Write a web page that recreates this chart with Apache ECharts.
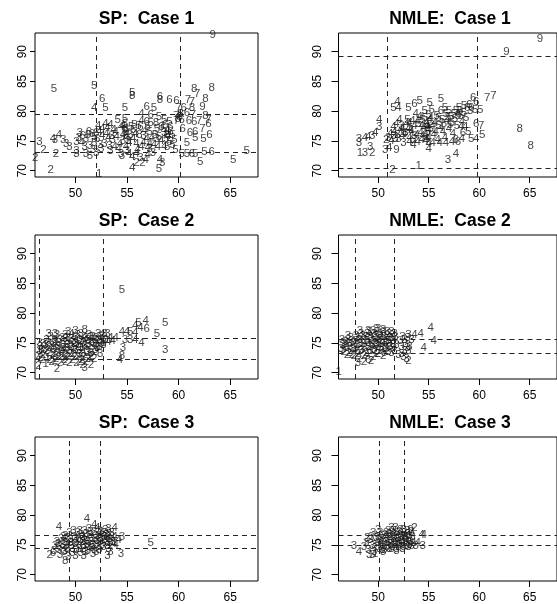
<!DOCTYPE html>
<html><head><meta charset="utf-8">
<script src="https://cdn.jsdelivr.net/npm/echarts@6/dist/echarts.min.js"></script>
<style>html,body{margin:0;padding:0;background:#fff}#c{width:557px;height:604px}</style>
</head><body><div id="c"></div>
<script>
const xTicks=[50,55,60,65];
const yTicks=[70,75,80,85,90];
const panelTitles=['SP:  Case 1','NMLE:  Case 1','SP:  Case 2','NMLE:  Case 2','SP:  Case 3','NMLE:  Case 3'];

const sp1Points=[
[63.3,92.9,9],[47.9,83.8,5],[51.8,84.2,5],[51.8,80.5,4],[52.9,80.5,5],[52.6,82.0,6],[54.8,80.5,5],[55.5,83.1,5],[55.5,82.6,8],[56.9,80.8,6],[57.6,80.6,5],[58.2,82.4,6],[58.2,81.9,8],[59.1,81.9,6],[59.8,81.8,6],[60.9,81.9,7],[61.3,81.6,7],[61.5,83.8,8],[61.8,82.9,7],[63.2,84.0,8],[62.6,82.0,8],[62.3,80.8,9],[61.3,80.5,8],[62.6,79.2,8],[62.0,78.3,7],[62.9,78.5,7],[62.9,77.8,6],[62.3,77.0,7],[61.5,78.2,6],[61.0,78.3,6],[60.4,77.1,6],[61.6,76.5,6],[61.1,76.3,6],[61.6,75.6,5],[63.0,76.1,6],[62.4,75.3,5],[60.8,74.7,5],[59.6,75.2,5],[59.7,73.5,5],[60.3,72.8,5],[60.8,72.9,5],[61.3,72.9,6],[61.6,72.9,5],[62.1,71.5,5],[62.5,73.2,5],[63.2,73.2,6],[65.3,71.8,5],[66.6,73.3,5],[58.2,71.8,4],[58.4,71.4,3],[58.1,70.3,5],[55.5,70.4,4],[47.6,70.2,2],[52.3,69.5,1],[46.1,72.2,2],[46.9,73.5,2],[48.1,72.9,2],[46.5,74.9,3],[47.8,75.3,4],[48.0,75.2,3],[48.4,76.0,4],[48.8,75.2,3],[49.1,74.5,3],[49.4,74.0,3],
[60.0,80.6,7],[60.5,80.5,6],[60.2,79.6,8],[59.8,79.3,7],[60.8,79.8,6],[61.4,79.4,7],
[50.4,76.3,3],[50.1,74.9,3],[50.6,74.6,4],[50.9,74.0,3],[50.1,73.4,3],[50.1,72.9,3],[51.0,72.8,3],[51.4,72.5,5],[51.2,76.0,6],[51.6,76.2,6],[52.0,76.3,6],[51.8,75.7,5],[52.1,75.4,6],[51.8,74.7,5],[52.4,74.3,3],[52.0,73.0,3],[52.8,74.5,3],[53.3,74.1,3],[52.6,75.8,4],[53.0,76.2,4],[52.2,77.5,4],[52.6,77.0,4],[52.9,77.8,4],[53.4,77.7,4],[53.5,75.9,3],[53.9,76.6,4],[53.6,75.2,3],[53.8,74.0,4],[54.3,74.5,4],[54.1,78.6,5],[54.4,77.3,4],[54.6,76.1,4],[54.8,78.8,5],[54.8,77.8,5],[54.9,77.1,3],[54.8,76.6,5],[54.8,76.9,9],[55.0,76.2,4],[54.9,75.5,4],[54.9,74.0,4],[55.1,75.0,3],[55.3,76.0,3],[55.2,74.6,4],[55.2,72.9,4],[54.5,72.5,3],[55.7,77.7,5],[55.6,76.8,5],[55.6,75.4,4],[55.9,74.5,4],[55.9,72.8,4],[55.9,71.3,2],[56.2,76.0,8],[56.4,78.4,4],[56.3,77.3,6],[56.4,74.0,4],[56.5,71.3,2],[56.6,75.9,3],[56.9,78.2,6],[56.9,75.3,4],[56.8,71.8,4],[57.0,72.6,4],[57.2,73.7,3],[57.3,78.0,5],[57.2,76.5,5],[57.2,74.5,4],[57.5,73.0,3],[57.7,76.0,5],[57.8,78.1,8],[57.6,74.3,4],[57.9,75.3,3],[58.1,79.0,5],[58.1,75.7,5],[58.3,77.3,6],[58.0,74.0,4],[58.6,78.5,5],[58.6,74.0,4],[58.5,77.1,5],[58.6,76.3,3],[58.9,76.7,4],[58.9,76.0,6],[58.9,74.0,5],[58.8,75.4,5],[59.1,78.2,5],[59.0,75.9,4],[59.2,76.5,6],[59.4,74.3,5],[59.8,78.4,7],[60.1,79.0,6],[59.9,78.8,8],[60.3,78.6,6],[57.3,79.4,6],[56.4,79.5,4],
[50.3,75.6,3],[50.7,75.9,6],[51.0,75.3,3],[51.4,74.1,3],[51.3,76.6,6],[51.7,73.5,3],[52.3,76.6,4],[52.5,73.6,3],[53.2,75.5,4],[53.1,77.2,4],[53.7,76.9,4],[54.0,75.7,4],[54.2,73.6,4],[54.6,77.6,4],[54.6,75.0,3],[55.0,73.3,3],[55.4,77.3,5],[55.8,76.2,4],[56.0,73.5,4],[56.1,77.6,5],[56.7,76.7,4],[56.6,74.7,4],[57.0,77.3,5],[57.4,75.6,4],[57.9,77.0,5],[58.3,75.0,4],[58.7,77.7,6],[59.2,77.3,6],[59.4,76.0,5],[59.1,74.8,5],[54.4,72.9,3],[53.4,73.4,3],[55.5,72.3,4],[56.3,72.2,3],[57.0,73.9,4]
];

const nm1Points=[
[66.0,92.2,9],[62.7,90.0,9],[64.0,77.0,8],[65.1,74.1,8],[60.8,82.3,7],[61.4,82.6,7],[59.4,82.2,6],[59.7,81.6,6],[59.7,77.8,6],[60.2,77.5,7],[60.3,76.0,5],[59.7,75.3,4],[59.2,75.4,5],[56.9,71.9,3],[57.7,72.8,4],[54.0,70.9,1],[51.4,70.2,2],[48.2,73.0,1],[48.7,73.0,3],[49.4,73.0,2],[48.1,75.4,3],[48.1,74.6,3],[49.2,74.0,3],[50.1,78.5,4],[50.1,77.4,3],[49.7,76.3,4],[49.4,75.8,3],[49.0,75.7,4],[48.7,75.5,4],[50.7,73.5,3],[51.1,73.8,4],[51.8,73.5,9],[53.5,74.3,4],[55.0,73.6,4],[51.9,81.6,4],[51.5,80.5,5],[52.0,80.5,4],[53.0,80.5,5],[53.6,81.2,6],[54.1,81.8,5],[55.1,81.4,5],[56.2,82.0,5],
[60.1,80.2,5],[59.6,80.2,5],[59.1,80.0,3],[58.0,79.6,5],[58.2,77.4,4],[58.4,76.3,6],[58.3,75.4,4],[56.7,74.6,4],[57.7,75.2,6],[57.9,74.8,6],[57.3,74.9,4],
[50.8,75.2,2],[51.0,75.5,3],[51.3,75.0,4],[51.5,75.8,3],[51.6,76.6,4],[51.5,77.3,4],[51.8,77.9,4],[51.9,76.0,3],[52.0,75.3,3],[52.2,76.8,4],[52.3,77.5,3],[52.4,75.8,4],[52.5,74.7,3],[52.7,76.3,3],[52.8,77.9,4],[52.9,78.6,5],[53.0,77.0,4],[53.1,75.6,4],[53.3,76.5,4],[53.4,78.3,4],[53.5,75.2,3],[53.6,77.5,4],[53.7,79.5,4],[53.8,76.0,4],[53.9,74.8,4],[54.0,77.8,5],[54.1,79.1,4],[54.2,76.4,4],[54.3,75.2,4],[54.4,78.6,5],[54.5,77.2,4],[54.6,80.0,5],[54.7,76.0,4],[54.7,75.0,4],[54.8,78.0,4],[54.9,77.3,4],[54.9,76.5,5],[55.0,79.4,5],[55.0,75.6,4],[55.0,74.5,4],[55.1,78.5,4],[55.2,77.0,5],[55.3,80.2,5],[55.5,76.0,4],[55.6,78.0,4],[55.8,79.2,5],[55.9,75.2,4],[56.0,77.6,5],[56.1,74.6,4],[56.2,80.0,6],[56.3,78.6,5],[56.4,76.6,4],[56.5,77.9,5],[56.6,75.6,4],[56.7,79.6,5],[56.8,78.3,4],[57.0,77.0,4],[57.0,80.1,5],[57.2,79.0,5],[57.3,78.0,5],[57.4,76.2,4],[57.5,79.6,5],[57.7,80.0,5],[57.8,77.6,5],[58.0,80.6,5],[58.2,79.3,5],[58.3,78.2,4],[58.5,80.9,5],[58.8,80.5,6],[59.0,81.0,6],[59.2,80.5,6],[58.6,77.4,4],[58.9,76.6,5],
[51.2,76.2,4],[51.7,75.4,3],[52.1,78.5,4],[52.4,77.1,4],[52.6,76.2,4],[53.1,78.0,4],[53.2,76.8,4],[53.6,75.8,3],[53.9,78.4,4],[54.3,77.5,4],[54.4,75.9,4],[54.6,78.9,5],[54.8,77.6,4],[54.8,75.4,4],[55.0,76.9,4],[55.2,78.9,4],[55.4,77.5,4],[55.7,76.6,4],[56.0,78.9,5],[56.2,77.2,4],[56.6,80.5,5],[56.9,79.0,5],[57.1,77.7,5],[57.6,78.7,5],[57.9,79.3,5],[58.1,80.1,5],[58.5,79.7,5],[58.7,78.9,5],[55.4,74.7,4],[53.1,74.9,4]
];

const sp2Points=[
[54.5,83.9,5],[58.7,78.4,5],[56.8,78.8,4],[56.1,78.3,5],[55.8,77.9,4],[56.9,77.4,6],[56.3,77.5,4],[57.9,76.5,5],[54.5,76.8,4],[55.0,76.8,4],[55.3,76.9,5],[55.8,76.7,4],[54.8,75.6,3],[55.3,75.6,3],[55.8,75.5,4],[56.4,75.0,4],[54.6,74.1,3],[54.5,72.8,8],[54.3,72.1,4],[58.7,73.8,3],[53.1,76.5,3],[53.9,75.9,4],[53.6,75.4,4],[52.7,74.6,3],[52.4,73.1,3],[51.2,72.4,2],[50.9,70.9,3],[48.2,70.7,2],[47.1,71.5,1],[46.4,71.2,2],
[46.4,72.8,2],[46.5,73.6,3],[46.6,74.4,3],[46.5,75.1,3],[46.8,72.2,2],[46.9,73.0,2],[47.0,73.9,3],[47.1,74.7,3],[47.2,75.5,3],[47.3,72.5,1],[47.4,73.4,2],[47.5,74.2,3],[47.6,76.0,3],[47.7,71.8,2],[47.8,72.9,2],[47.9,73.8,3],[47.9,74.8,3],[48.0,75.6,3],[48.1,72.3,2],[48.2,76.3,3],[48.3,73.3,2],[48.3,74.3,3],[48.4,75.1,3],[48.5,71.7,2],[48.6,72.7,2],[48.7,73.8,3],[48.7,75.8,3],[48.8,74.6,3],[48.9,72.2,2],[49.0,73.2,2],[49.0,76.4,3],[49.1,74.1,3],[49.2,75.2,3],[49.3,72.6,2],[49.4,71.6,2],[49.4,73.6,3],[49.5,74.7,3],[49.6,75.7,3],[49.6,76.6,4],[49.7,72.1,2],[49.8,73.1,2],[49.9,74.2,3],[50.0,75.1,3],[50.0,76.0,3],[50.1,71.7,2],[50.2,72.7,2],[50.3,73.6,3],[50.3,74.6,3],[50.4,75.6,3],[50.5,76.5,3],[50.6,72.2,2],[50.7,73.2,3],[50.7,74.1,3],[50.8,75.0,3],[50.9,76.0,4],[50.9,77.2,8],[51.0,71.8,2],[51.1,73.7,3],[51.2,74.6,3],[51.2,75.5,3],[51.3,76.4,3],[51.4,72.7,2],[51.5,73.3,3],[51.6,74.3,3],[51.6,75.2,3],[51.7,76.1,3],[51.8,72.4,2],[51.9,73.9,3],[52.0,74.8,3],[52.0,75.8,3],[52.2,76.6,3],[52.3,74.3,3],[52.4,75.3,3],[52.5,76.0,3],[52.7,75.0,3],[52.8,76.6,3],[52.9,75.6,3],[53.2,75.2,4],[53.4,75.8,4],[50.0,77.0,3],[49.3,76.9,3],[48.0,76.5,3],[47.4,76.6,3],[51.5,71.4,2],[50.7,71.3,2],
[46.6,72.5,2],[46.7,73.8,3],[46.9,74.9,3],[47.2,73.7,2],[47.4,75.0,3],[47.5,72.1,2],[47.7,74.5,3],[47.8,73.2,2],[48.0,75.2,3],[48.2,74.0,3],[48.4,72.6,2],[48.5,75.5,3],[48.6,73.5,3],[48.8,74.2,3],[49.0,75.7,3],[49.1,72.9,2],[49.2,74.7,3],[49.3,75.9,3],[49.5,73.2,2],[49.6,74.3,3],[49.8,75.4,3],[49.9,72.6,2],[50.0,73.8,3],[50.1,74.8,3],[50.2,76.3,3],[50.4,73.1,3],[50.5,74.2,3],[50.6,75.3,3],[50.8,72.6,2],[50.9,74.5,3],[51.0,75.8,3],[51.2,73.3,3],[51.3,74.9,3],[51.5,76.0,3],[51.6,72.9,2],[51.8,74.9,3],[51.9,75.6,3],[52.1,74.1,3],[52.3,75.6,3],[52.5,74.8,3],[52.6,76.2,3],[52.0,73.5,3],[49.0,71.9,2],[48.0,72.0,2],[50.4,71.9,2]
];

const nm2Points=[
[55.2,77.6,4],[54.2,76.6,4],[53.6,76.3,4],[55.5,75.3,4],[54.5,74.2,4],[46.1,70.1,1],
[46.3,74.0,3],[46.5,74.6,3],[46.6,73.5,2],[46.8,75.2,3],[46.9,74.1,3],[47.1,73.3,2],[47.2,74.8,3],[47.3,75.8,3],[47.5,74.0,3],[47.6,72.8,2],[47.7,75.3,3],[47.8,76.2,3],[47.9,73.6,2],[48.0,74.6,3],[48.1,72.3,2],[48.2,75.6,3],[48.3,76.6,3],[48.4,73.9,3],[48.5,74.9,3],[48.6,72.8,2],[48.7,76.0,3],[48.8,73.3,2],[48.9,75.3,3],[49.0,74.3,3],[49.0,72.1,6],[49.1,76.8,3],[49.2,73.7,3],[49.3,75.7,3],[49.4,74.7,3],[49.5,72.6,2],[49.5,77.1,3],[49.6,73.9,3],[49.7,76.2,3],[49.8,75.1,3],[49.9,73.2,2],[50.0,74.4,3],[50.0,77.4,3],[50.1,75.7,3],[50.2,76.6,3],[50.3,73.7,3],[50.4,74.9,3],[50.5,72.9,2],[50.5,77.2,3],[50.6,76.0,3],[50.7,74.2,3],[50.8,75.4,3],[50.9,76.8,3],[51.0,73.5,3],[51.1,74.8,3],[51.2,75.9,3],[51.3,76.9,3],[51.4,74.2,3],[51.5,75.3,3],[51.6,73.6,3],[51.7,76.1,3],[51.8,74.7,3],[52.0,73.0,3],[52.2,75.3,3],[52.3,74.4,3],[52.4,76.0,3],[52.6,73.6,3],[52.7,74.9,3],[52.8,72.3,3],[52.9,75.8,3],[53.0,72.0,2],[53.1,74.3,3],[53.3,75.6,3],[53.0,76.4,3],[52.5,72.6,3],[47.0,76.2,3],[46.4,75.5,3],[48.0,71.6,3],[48.6,71.8,2],[49.3,72.0,2],
[46.5,73.9,3],[46.7,74.9,3],[46.9,73.0,2],[47.0,75.6,3],[47.2,74.3,3],[47.4,73.0,2],[47.5,75.0,3],[47.7,74.2,3],[47.9,75.9,3],[48.0,73.2,2],[48.2,74.9,3],[48.3,73.6,3],[48.5,76.2,3],[48.6,75.4,3],[48.7,74.1,3],[48.9,76.6,3],[49.0,75.0,3],[49.1,73.1,2],[49.2,76.0,3],[49.3,74.3,3],[49.5,75.3,3],[49.6,76.5,3],[49.7,73.6,2],[49.8,74.6,3],[49.9,75.9,3],[50.0,73.1,2],[50.1,74.9,3],[50.2,76.2,3],[50.3,74.1,3],[50.4,75.4,3],[50.5,76.9,3],[50.6,73.4,3],[50.7,75.0,3],[50.8,74.0,3],[50.9,76.2,3],[51.0,75.4,3],[51.1,76.5,3],[51.2,74.3,3],[51.3,73.3,3],[51.4,75.8,3],[51.5,74.6,3],[51.6,76.6,3],[49.0,77.0,3],[49.8,77.3,3],[48.2,77.0,3],[52.3,73.2,3],[52.6,75.6,3],[53.0,73.6,3],[52.9,74.2,3]
];

const sp3Points=[
[48.4,78.0,4],[51.1,79.4,4],[51.8,78.4,4],[57.3,75.3,5],[54.4,73.5,3],[53.1,73.1,3],[53.4,73.9,3],[47.5,73.4,2],[47.8,73.6,6],[49.0,72.4,8],[54.5,76.4,3],[54.2,75.8,4],[53.8,77.8,4],[53.2,77.7,3],[53.7,75.2,4],
[48.0,74.8,3],[48.2,75.6,3],[48.4,74.2,3],[48.6,76.1,3],[48.7,75.0,3],[48.9,73.8,3],[49.0,76.6,3],[49.1,75.4,3],[49.2,74.3,3],[49.4,77.0,3],[49.5,75.9,3],[49.6,74.8,3],[49.7,73.6,3],[49.9,76.4,3],[50.0,75.2,3],[50.1,74.1,3],[50.2,77.1,3],[50.3,76.0,3],[50.4,74.8,3],[50.5,73.6,3],[50.6,76.7,3],[50.7,75.5,3],[50.8,74.3,3],[50.9,77.3,3],[51.0,76.2,3],[51.1,75.1,3],[51.2,74.0,3],[51.3,77.7,3],[51.4,76.7,3],[51.5,75.6,3],[51.6,74.5,3],[51.7,73.5,3],[51.8,77.2,3],[51.9,76.1,3],[52.0,75.0,3],[52.1,77.8,4],[52.2,76.6,3],[52.3,74.1,3],[52.4,75.5,3],[52.5,77.2,3],[52.6,76.2,3],[52.7,74.7,3],[52.8,75.8,3],[52.9,77.5,3],[53.0,76.7,3],[53.1,75.3,3],[53.2,74.3,3],[53.3,76.0,3],[53.5,77.0,3],[53.6,75.6,3],[53.8,76.4,4],[53.9,75.0,4],[50.0,73.2,3],[50.8,73.1,3],[49.3,73.0,3],[48.5,73.3,3],[47.9,74.0,3],
[48.3,75.2,3],[48.5,74.6,3],[48.8,76.3,3],[48.9,75.5,3],[49.1,74.8,3],[49.3,76.2,3],[49.5,75.4,3],[49.7,74.4,3],[49.8,77.3,3],[50.0,76.1,3],[50.1,75.6,3],[50.3,74.4,3],[50.4,77.4,3],[50.5,75.8,3],[50.7,76.3,3],[50.8,74.9,3],[50.9,75.7,3],[51.1,76.8,3],[51.2,75.6,3],[51.3,74.6,3],[51.5,77.2,3],[51.6,76.1,3],[51.7,75.1,3],[51.8,74.1,3],[52.0,76.6,3],[52.1,75.7,3],[52.2,74.7,3],[52.3,77.4,3],[52.4,76.1,3],[52.6,75.1,3],[52.7,77.0,3],[52.8,76.3,3],[53.0,75.7,3],[53.1,74.9,3],[53.2,76.8,3],[53.4,75.4,3],[53.5,76.3,3],[51.0,73.8,3],[52.0,73.8,3],[49.0,74.0,3]
];

const nm3Points=[
[47.6,74.8,3],[48.1,73.9,4],[49.1,73.4,3],[49.4,73.3,3],[49.7,73.5,1],[54.3,76.7,4],[54.5,76.7,4],[54.4,74.8,3],[53.9,75.3,4],[53.7,74.8,3],[53.6,77.8,2],[53.2,77.6,9],[51.3,77.8,3],[51.7,77.8,3],[48.9,76.2,2],
[48.6,74.6,3],[48.8,75.4,3],[49.0,74.2,3],[49.2,75.8,3],[49.4,74.9,3],[49.6,73.9,3],[49.8,76.2,3],[50.0,75.3,3],[50.1,74.4,3],[50.2,77.0,3],[50.3,76.1,3],[50.4,75.0,3],[50.6,74.2,3],[50.7,76.7,3],[50.8,75.6,3],[50.9,74.7,3],[51.0,77.4,3],[51.1,76.3,3],[51.2,75.2,3],[51.3,74.4,3],[51.4,77.0,3],[51.5,76.0,3],[51.6,75.0,3],[51.8,76.6,3],[51.9,75.6,3],[52.0,74.6,3],[52.1,77.2,3],[52.2,76.2,3],[52.3,75.2,3],[52.4,74.3,3],[52.5,77.6,3],[52.6,76.6,3],[52.7,75.7,3],[52.8,74.8,3],[52.9,76.9,3],[53.0,76.0,3],[53.1,75.0,3],[53.3,77.2,3],[53.4,76.3,3],[53.5,75.4,4],[50.5,73.8,3],[51.8,74.0,3],[49.5,77.0,3],
[49.6,75.1,3],[49.9,74.6,3],[50.0,76.4,3],[50.2,75.7,3],[50.3,74.7,3],[50.5,76.5,3],[50.6,75.3,3],[50.8,77.1,3],[50.9,76.0,3],[51.0,74.9,3],[51.2,76.7,3],[51.3,75.7,3],[51.4,74.7,3],[51.5,77.4,3],[51.6,76.4,3],[51.7,75.4,3],[51.8,74.4,3],[51.9,77.0,3],[52.0,76.0,3],[52.1,75.0,3],[52.2,77.6,3],[52.3,76.6,3],[52.4,75.7,3],[52.5,74.6,3],[52.6,77.0,3],[52.7,76.2,3],[52.8,75.3,3],[52.9,77.4,3],[53.0,74.7,3],[53.1,76.5,3],[53.2,75.6,3],[53.3,74.9,3],[50.4,74.2,3],[51.1,74.3,3],[49.3,76.4,3],[50.0,77.6,3]
];

const sp1VLines=[52.05,60.15], sp1HLines=[79.55,73.05];
const nm1VLines=[50.94,59.85], nm1HLines=[89.16,70.4];
const sp2VLines=[46.44,52.65], sp2HLines=[75.74,72.22];
const nm2VLines=[47.74,51.55], nm2HLines=[75.57,73.22];
const sp3VLines=[49.42,52.43], sp3HLines=[76.63,74.38];
const nm3VLines=[50.07,52.55], nm3HLines=[76.6,74.9];

const FONT='"Liberation Sans", Arial, Helvetica, sans-serif';
const X_MIN=46.07, X_MAX=67.7, Y_MIN=68.94, Y_MAX=93.14;
const panels=[
 {pts:sp1Points,v:sp1VLines,h:sp1HLines},
 {pts:nm1Points,v:nm1VLines,h:nm1HLines},
 {pts:sp2Points,v:sp2VLines,h:sp2HLines},
 {pts:nm2Points,v:nm2VLines,h:nm2HLines},
 {pts:sp3Points,v:sp3VLines,h:sp3HLines},
 {pts:nm3Points,v:nm3VLines,h:nm3HLines}
];
const colLeft=[35,338.5], rowTop=[33,235,437], W=223, H=144;

const grid=[],xAxis=[],yAxis=[],series=[],title=[];
panels.forEach((p,i)=>{
  const col=i%2,row=Math.floor(i/2);
  const L=colLeft[col],T=rowTop[row];
  grid.push({left:L,top:T,width:W,height:H,show:true,borderColor:'#000',borderWidth:1,backgroundColor:'transparent'});
  xAxis.push({type:'value',gridIndex:i,min:X_MIN,max:X_MAX,splitLine:{show:false},
    axisLine:{show:false},
    axisTick:{show:true,customValues:xTicks,length:6,lineStyle:{color:'#000',width:1}},
    axisLabel:{customValues:xTicks,fontSize:12,color:'#000',fontFamily:FONT,margin:11}});
  yAxis.push({type:'value',gridIndex:i,min:Y_MIN,max:Y_MAX,splitLine:{show:false},
    axisLine:{show:false},
    axisTick:{show:true,customValues:yTicks,length:col?7:5,lineStyle:{color:'#000',width:1}},
    axisLabel:{customValues:yTicks,rotate:90,fontSize:12,color:'#000',fontFamily:FONT,margin:col?15:6}});
  title.push({text:panelTitles[i],left:L+W/2,top:T-23,textAlign:'center',padding:0,
    textStyle:{fontSize:17.5,fontWeight:'bold',color:'#000',fontFamily:FONT}});
  series.push({type:'scatter',xAxisIndex:i,yAxisIndex:i,data:p.pts,symbolSize:0,
    itemStyle:{color:'rgba(0,0,0,0)'},
    label:{show:true,position:'inside',formatter:d=>String(d.value[2]),fontSize:11.5,color:'#111',fontFamily:FONT},
    emphasis:{disabled:true},silent:true,
    markLine:{silent:true,symbol:['none','none'],label:{show:false},
      lineStyle:{type:[5,4],color:'#222',width:1},
      data:p.v.map(v=>({xAxis:v})).concat(p.h.map(h=>({yAxis:h})))}});
});

const chart=echarts.init(document.getElementById('c'),null,{renderer:'canvas'});
chart.setOption({animation:false,backgroundColor:'#fff',title,grid,xAxis,yAxis,series});
</script></body></html>
